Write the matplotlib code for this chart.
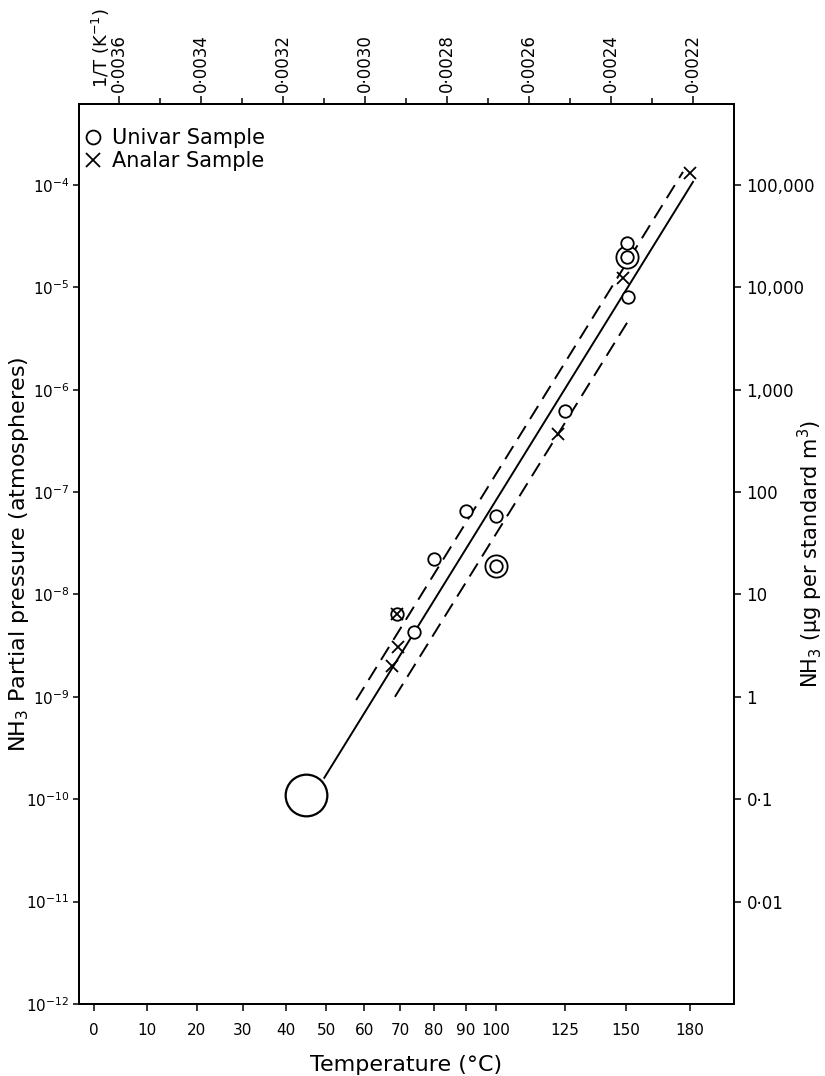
import numpy as np
import matplotlib
matplotlib.use("Agg")
import matplotlib.pyplot as plt
from matplotlib.lines import Line2D
from matplotlib.ticker import NullLocator

plt.rcParams['font.family'] = ['DejaVu Sans']
plt.rcParams['lines.scale_dashes'] = False

K0 = 273.15

# axis ticks
temp_ticks = [0, 10, 20, 30, 40, 50, 60, 70, 80, 90, 100, 125, 150, 180]
inv_ticks = [0.0036, 0.0034, 0.0032, 0.0030, 0.0028, 0.0026, 0.0024, 0.0022]
inv_minor = [0.0035, 0.0033, 0.0031, 0.0029, 0.0027, 0.0025, 0.0023]
inv_labels = ['0·0036', '0·0034', '0·0032', '0·0030', '0·0028', '0·0026', '0·0024', '0·0022']
p_exp = [-4, -5, -6, -7, -8, -9, -10, -11, -12]
conc_ticks = [0.01, 0.1, 1, 10, 100, 1e3, 1e4, 1e5]
conc_labels = ['0·01', '0·1', '1', '10', '100', '1,000', '10,000', '100,000']

# Univar sample (single circles)
univar_t = [69, 74, 80, 90, 100, 125, 150.5, 151]
univar_p = [6.5e-9, 4.3e-9, 2.2e-8, 6.5e-8, 5.8e-8, 6.2e-7, 2.7e-5, 8.1e-6]
# Univar sample, double rings
univar_dbl_t = [100, 150.4]
univar_dbl_p = [1.9e-8, 1.97e-5]
# extrapolated room temperature value (large circle)
room_t = [45]
room_p = [1.1e-10]

# Analar sample (crosses)
analar_t = [69, 69.4, 67.6, 122.4, 148.9, 180]
analar_p = [6.5e-9, 3.1e-9, 2.0e-9, 3.7e-7, 1.23e-5, 1.3e-4]

# fitted line and limits
fit_t = [49.5, 181.5]
fit_p = [1.62e-10, 1.07e-4]
upper_t = [57.8, 176.5]
upper_p = [9.3e-10, 1.34e-4]
lower_t = [68.5, 150.5]
lower_p = [1.0e-9, 4.5e-6]


def inv(t):
    return 1.0 / (np.asarray(t, dtype=float) + K0)


W, H = 825, 1076
fig = plt.figure(figsize=(W / 100, H / 100), dpi=100)
ax = fig.add_axes([79 / W, 1 - 1004 / H, (734 - 79) / W, (1004 - 104) / H])

xlim = (0.003698, 0.0020994)
ylim = (1e-12, 10 ** -3.21)
ax.set_yscale('log')
ax.set_xlim(xlim)
ax.set_ylim(ylim)

ax.plot(inv(fit_t), fit_p, color='k', lw=1.4, zorder=2)
ax.plot(inv(upper_t), upper_p, color='k', lw=1.4, dashes=(11, 6), zorder=2)
ax.plot(inv(lower_t), lower_p, color='k', lw=1.4, dashes=(11, 6), zorder=2)

ax.plot(inv(room_t), room_p, 'o', ms=30, mfc='white', mec='k', mew=1.6, zorder=3)
ax.plot(inv(univar_dbl_t), univar_dbl_p, 'o', ms=16, mfc='white', mec='k', mew=1.3, zorder=3)
ax.plot(inv(univar_dbl_t), univar_dbl_p, 'o', ms=9, mfc='white', mec='k', mew=1.3, zorder=3)
ax.plot(inv(univar_t), univar_p, 'o', ms=9, mfc='white', mec='k', mew=1.3, zorder=3)
ax.plot(inv(analar_t), analar_p, 'x', ms=9, mec='k', mew=1.3, zorder=4)

# bottom: temperature scale
ax.set_xticks(inv(temp_ticks))
ax.set_xticklabels([str(t) for t in temp_ticks])
ax.xaxis.set_minor_locator(NullLocator())
ax.tick_params(axis='x', direction='out', length=5, width=1.1, labelsize=11, pad=9)
ax.set_xlabel('Temperature (°C)', fontsize=16, labelpad=12)

# left: partial pressure
ax.set_yticks([10.0 ** e for e in p_exp])
ax.set_yticklabels(['$10^{%d}$' % e for e in p_exp])
ax.yaxis.set_minor_locator(NullLocator())
ax.tick_params(axis='y', direction='out', length=4, width=1.1, labelsize=11, pad=3)
ax.set_ylabel('NH$_3$ Partial pressure (atmospheres)', fontsize=16)
ax.yaxis.set_label_coords(-0.074, 0.5)

# right: concentration
axr = ax.twinx()
axr.set_yscale('log')
axr.set_ylim(ylim[0] * 1e9, ylim[1] * 1e9)
axr.set_yticks(conc_ticks)
axr.set_yticklabels(conc_labels)
axr.yaxis.set_minor_locator(NullLocator())
axr.tick_params(axis='y', direction='out', length=5, width=1.1, labelsize=12, pad=4)
axr.set_ylabel('NH$_3$ (µg per standard m$^3$)', fontsize=15)
axr.yaxis.set_label_coords(1.094, 0.5)

# top: 1/T scale
axt = ax.twiny()
axt.set_xlim(xlim)
axt.set_xticks(inv_ticks)
axt.set_xticklabels(inv_labels, rotation=90)
axt.set_xticks(inv_minor, minor=True)
axt.tick_params(axis='x', which='major', direction='out', length=6, width=1.1, labelsize=12, pad=3)
axt.tick_params(axis='x', which='minor', direction='out', length=4, width=1.1)
fig.text(101 / W, 1 - 88 / H, '1/T (K$^{-1}$)', rotation=90, ha='center', va='bottom', fontsize=13)

for a in (ax, axr, axt):
    for s in a.spines.values():
        s.set_linewidth(1.3)

handles = [Line2D([], [], ls='none', marker='o', ms=10, mfc='white', mec='k', mew=1.3),
           Line2D([], [], ls='none', marker='x', ms=10, mec='k', mew=1.3)]
ax.legend(handles, ['Univar Sample', 'Analar Sample'], loc='upper left',
          bbox_to_anchor=(-0.026, 0.994), frameon=False, fontsize=15,
          handletextpad=0.3, labelspacing=0.15, handlelength=1.2)

fig.savefig('out.png', dpi=100)
